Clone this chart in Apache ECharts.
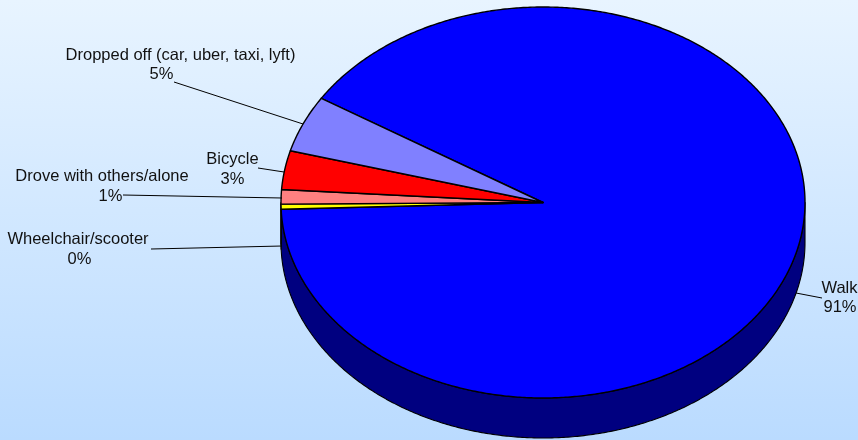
<!DOCTYPE html>
<html>
<head>
<meta charset="utf-8">
<style>html,body{margin:0;padding:0;background:#fff}#chart{width:858px;height:440px}</style>
<script src="https://cdn.jsdelivr.net/npm/echarts@6/dist/echarts.min.js"></script>
</head>
<body>
<div id="chart"></div>
<script>
// How people arrive: share of trips per mode, in drawing order (clockwise from the top-left edge)
const categories = ['Walk', 'Wheelchair/scooter', 'Drove with others/alone', 'Bicycle', 'Dropped off (car, uber, taxi, lyft)'];
const shares = [90.5, 0.42, 1.2, 3.2, 4.68];
const topColors = ['#0000ff', '#ffff00', '#ff8080', '#ff0000', '#8080ff'];
const sideColors = ['#000080', '#808000', '#804040', '#800000', '#404080'];

// Text centres for the name line and the percent line, and the two ends of each leader line
const nameCentres = [[839.5, 288], [78, 239], [102, 176.5], [232.5, 159], [180.5, 55]];
const percentCentres = [[840, 307], [79.5, 259], [110.5, 196.5], [232.5, 179], [161.5, 74.5]];
const leaders = [
  [[796, 293], [822, 298]],
  [[282, 246], [151, 249]],
  [[282, 198], [123, 195]],
  [[284, 172], [258, 168]],
  [[303, 124], [174, 82]]
];

// Tilted disc geometry
const cx = 543, cy = 202.5, rx = 262, ry = 195.5, depth = 40;
const startDeg = 147.8;
const total = shares.reduce((a, b) => a + b, 0);
const ink = '#000000';

function rimPoint(deg, drop) {
  const t = deg * Math.PI / 180;
  return [cx + rx * Math.cos(t), cy - ry * Math.sin(t) + (drop || 0)];
}

function arcPoints(from, to, drop) {
  const n = Math.max(2, Math.ceil(Math.abs(to - from) * 2));
  const pts = [];
  for (let i = 0; i <= n; i++) pts.push(rimPoint(from + (to - from) * i / n, drop));
  return pts;
}

// Slice angle span, clockwise on screen, so angles decrease
function sliceSpan(index) {
  const before = shares.slice(0, index).reduce((a, b) => a + b, 0);
  return [startDeg - before / total * 360, startDeg - (before + shares[index]) / total * 360];
}

// Wall pieces lie on the front half of the rim: angles in (-180, 0), modulo a full turn
function frontRanges(a, b) {
  const out = [];
  for (const k of [0, -360, 360]) {
    const hi = Math.min(a + k, 0), lo = Math.max(b + k, -180);
    if (hi > lo) out.push([hi, lo]);
  }
  return out;
}

function renderWall(params, api) {
  const i = api.value(2);
  const [a, b] = sliceSpan(i);
  const children = frontRanges(a, b).map(([hi, lo]) => ({
    type: 'polygon',
    shape: { points: arcPoints(hi, lo, 0).concat(arcPoints(lo, hi, depth)) },
    style: { fill: sideColors[i], stroke: ink, lineWidth: 1.1, lineJoin: 'round' }
  }));
  return { type: 'group', children };
}

function renderSlice(params, api) {
  const i = api.value(2);
  const [a, b] = sliceSpan(i);
  return {
    type: 'polygon',
    shape: { points: [[cx, cy]].concat(arcPoints(a, b, 0)) },
    style: { fill: topColors[i], stroke: ink, lineWidth: 1.4, lineJoin: 'round' }
  };
}

function labelText(content, at) {
  return {
    type: 'text',
    x: at[0],
    y: at[1],
    style: {
      text: content,
      fill: '#111111',
      font: '16.5px "Liberation Sans", Arial, sans-serif',
      align: 'center',
      verticalAlign: 'middle'
    }
  };
}

function renderLabel(params, api) {
  const i = api.value(2);
  const line = leaders[i];
  const pct = Math.round(shares[i] / total * 100) + '%';
  return {
    type: 'group',
    children: [
      {
        type: 'line',
        shape: { x1: line[0][0], y1: line[0][1], x2: line[1][0], y2: line[1][1] },
        style: { stroke: ink, lineWidth: 1, fill: null }
      },
      labelText(categories[i], nameCentres[i]),
      labelText(pct, percentCentres[i])
    ]
  };
}

const rows = categories.map((name, i) => [name, shares[i], i]);
const layer = (renderItem, z) => ({
  type: 'custom',
  coordinateSystem: 'none',
  renderItem,
  data: rows,
  silent: true,
  z
});

const chart = echarts.init(document.getElementById('chart'), null, { renderer: 'canvas' });
chart.setOption({
  animation: false,
  backgroundColor: {
    type: 'linear', x: 0, y: 0, x2: 0, y2: 1,
    colorStops: [{ offset: 0, color: '#e8f4ff' }, { offset: 1, color: '#badbff' }]
  },
  series: [layer(renderWall, 1), layer(renderSlice, 2), layer(renderLabel, 3)]
});
</script>
</body>
</html>
